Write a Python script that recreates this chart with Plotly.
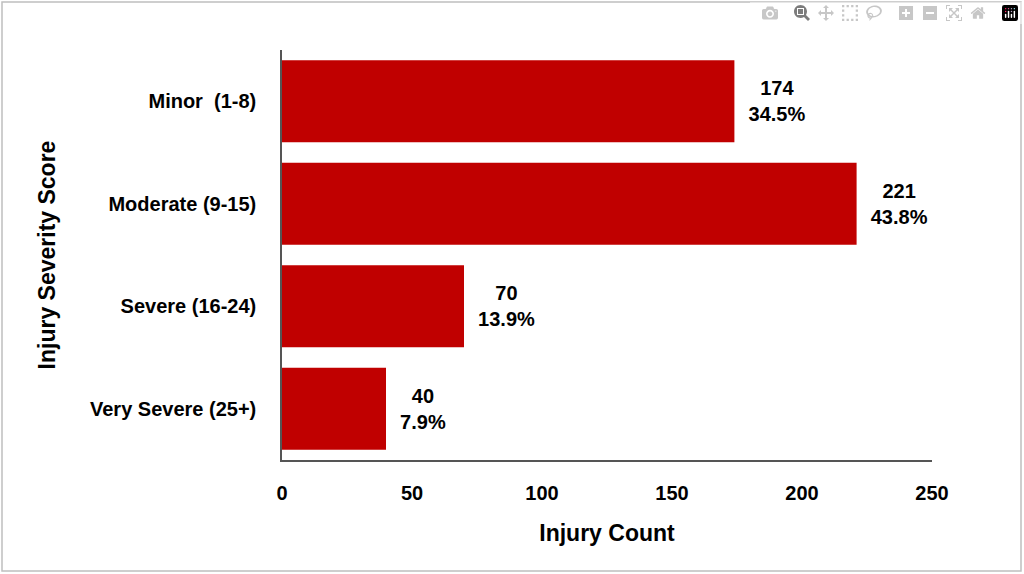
import plotly.graph_objects as go

categories = ["Minor\u00a0 (1-8)", "Moderate (9-15)", "Severe (16-24)", "Very Severe (25+)"]
counts = [174, 221, 70, 40]
percents = ["34.5%", "43.8%", "13.9%", "7.9%"]
x_ticks = [0, 50, 100, 150, 200, 250]

F = "Liberation Sans, Arial, sans-serif"
fig = go.Figure(go.Bar(
    y=categories, x=counts, orientation="h",
    marker=dict(color="#C00000", line=dict(width=0)),
    customdata=percents,
    texttemplate="<b>\u00a0\u00a0%{x}<br>\u00a0\u00a0%{customdata}</b>",
    textposition="outside", cliponaxis=False,
    textfont=dict(family=F, size=20, color="black"),
))
W, H = 1024, 574
l, r, t, b = 282, 92, 50, 114
pw, ph = W - l - r, H - t - b
fig.update_layout(
    width=W, height=H, margin=dict(l=l, r=r, t=t, b=b),
    paper_bgcolor="white", plot_bgcolor="white", bargap=0.2, showlegend=False,
    font=dict(family=F, color="black"),
    xaxis=dict(range=[0, 250], tickvals=x_ticks, ticktext=[f"<b>{v}</b>" for v in x_ticks],
               showgrid=False, zeroline=False,
               showline=True, linecolor="#555", linewidth=1.5,
               tickfont=dict(size=20, family=F), ticks="outside", ticklen=14, tickcolor="white",
               title=dict(text="<b>Injury Count</b>", font=dict(size=23), standoff=22)),
    yaxis=dict(categoryorder="array", categoryarray=categories[::-1], showgrid=False,
               showline=True, linecolor="#555", linewidth=1.5, ticks="outside", ticklen=20,
               tickcolor="white",
               tickfont=dict(size=20, family=F),
               title=dict(text="<b>Injury Severity Score</b>", font=dict(size=23), standoff=28)),
    shapes=[dict(type="rect", xref="paper", yref="paper",
                 x0=(2 - l) / pw, x1=(1021 - l) / pw,
                 y0=(3 - b) / ph, y1=(572 - b) / ph,
                 line=dict(color="#BFBFBF", width=1.5), layer="below")],
)
fig.update_yaxes(tickprefix="<b>", ticksuffix="</b>")
fig.write_html("out.html", post_script="document.body.style.margin='0';")
